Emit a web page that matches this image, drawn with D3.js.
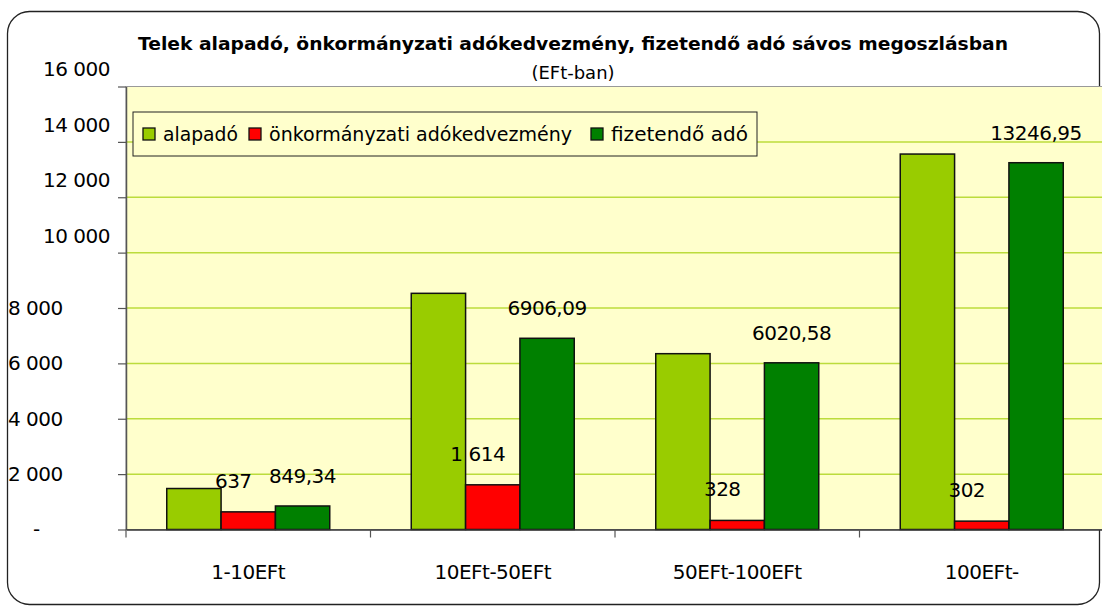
<!DOCTYPE html>
<html>
<head>
<meta charset="utf-8">
<script src="https://cdn.jsdelivr.net/npm/d3@7"></script>
<style>
  body { margin: 0; background: #fff; }
  text { font-family: "DejaVu Sans", sans-serif; fill: #000; }
</style>
</head>
<body>
<svg width="1102" height="608"></svg>
<script>
// data
const categories = ['1-10EFt', '10EFt-50EFt', '50EFt-100EFt', '100EFt-'];
const seriesNames = ['alapadó', 'önkormányzati adókedvezmény', 'fizetendő adó'];
const alapado = [1480, 8530, 6350, 13560];
const kedvezmeny = [637, 1614, 328, 302];
const fizetendo = [849.34, 6906.09, 6020.58, 13246.95];
const kedvezmenyLabels = ['637', '1 614', '328', '302'];
const fizetendoLabels = ['849,34', '6906,09', '6020,58', '13246,95'];
const yTicks = [0, 2000, 4000, 6000, 8000, 10000, 12000, 14000, 16000];
const colors = ['#99cc00', '#ff0000', '#008000'];

const svg = d3.select('svg');

// outer frame
svg.append('rect')
  .attr('x', 7.5).attr('y', 11.5)
  .attr('width', 1092).attr('height', 593)
  .attr('rx', 22).attr('ry', 22)
  .attr('fill', '#fff')
  .attr('stroke', '#222')
  .attr('stroke-width', 1.3);

const plot = {left: 126, right: 1104, top: 86.5, bottom: 529.5};

const x0 = d3.scaleBand()
  .domain(categories)
  .range([plot.left, plot.right]);

const barW = x0.bandwidth() / 4.5;
const x1 = d3.scaleBand()
  .domain(d3.range(3))
  .range([barW * 0.75, barW * 3.75]);

const y = d3.scaleLinear()
  .domain([0, 16000])
  .range([plot.bottom, plot.top]);

// plot background
svg.append('rect')
  .attr('x', plot.left).attr('y', plot.top)
  .attr('width', plot.right - plot.left)
  .attr('height', plot.bottom - plot.top)
  .attr('fill', '#ffffcc')
  .attr('stroke', '#999')
  .attr('stroke-width', 1);

// gridlines
svg.append('g')
  .selectAll('line')
  .data(yTicks.filter(d => d > 0 && d < 16000))
  .enter().append('line')
  .attr('x1', plot.left).attr('x2', plot.right)
  .attr('y1', d => y(d)).attr('y2', d => y(d))
  .attr('stroke', '#bcdc3c')
  .attr('stroke-width', 1.5);

// bars
const rows = categories.map((c, i) => ({
  cat: c,
  vals: [alapado[i], kedvezmeny[i], fizetendo[i]]
}));

const groups = svg.append('g')
  .selectAll('g')
  .data(rows)
  .enter().append('g')
  .attr('transform', d => `translate(${x0(d.cat)},0)`);

groups.selectAll('rect')
  .data(d => d.vals)
  .enter().append('rect')
  .attr('x', (d, i) => x1(i))
  .attr('width', x1.bandwidth())
  .attr('y', d => y(d))
  .attr('height', d => y(0) - y(d))
  .attr('fill', (d, i) => colors[i])
  .attr('stroke', '#111')
  .attr('stroke-width', 1.5);

// y axis
const yAxis = svg.append('g')
  .attr('transform', `translate(${plot.left},0)`)
  .call(d3.axisLeft(y).tickValues(yTicks).tickSize(8).tickSizeOuter(0)
    .tickFormat(d => d === 0 ? '-' : d3.format(',')(d).replace(',', ' ')));
yAxis.select('.domain').attr('stroke', '#555').attr('stroke-width', 1.5);
yAxis.selectAll('.tick line').attr('stroke', '#555').attr('stroke-width', 1.2);
yAxis.selectAll('.tick text')
  .style('font-family', '"DejaVu Sans", sans-serif')
  .style('font-size', '20px')
  .style('letter-spacing', '-0.5px')
  .attr('fill', '#000')
  .attr('text-anchor', d => d >= 10000 ? 'end' : 'start')
  .attr('x', d => d >= 10000 ? -16 : (d === 0 ? -93 : -118))
  .attr('y', d => d >= 10000 ? -17 : 0);

// x axis
const xAxis = svg.append('g')
  .attr('transform', `translate(0,${plot.bottom})`)
  .call(d3.axisBottom(x0).tickSize(0).tickSizeOuter(0));
xAxis.select('.domain').attr('stroke', '#333').attr('stroke-width', 1.5);
xAxis.selectAll('.tick text')
  .style('font-family', '"DejaVu Sans", sans-serif')
  .style('font-size', '20px')
  .style('letter-spacing', '-0.5px')
  .attr('fill', '#000')
  .attr('y', 35);

// category separators
svg.append('g')
  .selectAll('line')
  .data(categories)
  .enter().append('line')
  .attr('x1', d => x0(d)).attr('x2', d => x0(d))
  .attr('y1', plot.bottom).attr('y2', plot.bottom + 8)
  .attr('stroke', '#555')
  .attr('stroke-width', 1.2);

// data labels
const labelG = svg.append('g')
  .style('font-size', '20px')
  .style('letter-spacing', '-0.5px');

labelG.selectAll('.lab-red')
  .data(categories)
  .enter().append('text')
  .attr('class', 'lab-red')
  .attr('text-anchor', 'middle')
  .attr('x', (d, i) => x0(d) + x1(1) + x1.bandwidth() / 2 - 15)
  .attr('y', (d, i) => y(kedvezmeny[i]) - 31)
  .attr('dy', '0.35em')
  .text((d, i) => kedvezmenyLabels[i]);

labelG.selectAll('.lab-green')
  .data(categories)
  .enter().append('text')
  .attr('class', 'lab-green')
  .attr('text-anchor', 'middle')
  .attr('x', (d, i) => x0(d) + x1(2) + x1.bandwidth() / 2)
  .attr('y', (d, i) => y(fizetendo[i]) - 30)
  .attr('dy', '0.35em')
  .text((d, i) => fizetendoLabels[i]);

// title
svg.append('text')
  .attr('x', 573).attr('y', 44)
  .attr('dy', '0.35em')
  .attr('text-anchor', 'middle')
  .attr('textLength', 870)
  .attr('lengthAdjust', 'spacingAndGlyphs')
  .style('font-size', '18px')
  .style('font-weight', 'bold')
  .text('Telek alapadó, önkormányzati adókedvezmény, fizetendő adó sávos megoszlásban');

svg.append('text')
  .attr('x', 573).attr('y', 73)
  .attr('dy', '0.35em')
  .attr('text-anchor', 'middle')
  .style('font-size', '18px')
  .text('(EFt-ban)');

// legend
const legend = svg.append('g');
legend.append('rect')
  .attr('x', 133).attr('y', 112)
  .attr('width', 624).attr('height', 44)
  .attr('fill', '#ffffcc')
  .attr('stroke', '#222')
  .attr('stroke-width', 1);

const legendX = [143, 249, 591];
const legendLen = [75, 303, 137];
const items = legend.selectAll('g')
  .data(seriesNames)
  .enter().append('g')
  .attr('transform', (d, i) => `translate(${legendX[i]},134)`);

items.append('rect')
  .attr('x', 0).attr('y', -6)
  .attr('width', 12).attr('height', 12)
  .attr('fill', (d, i) => colors[i])
  .attr('stroke', '#111')
  .attr('stroke-width', 1.3);

items.append('text')
  .attr('x', 20).attr('y', 0)
  .attr('dy', '0.35em')
  .attr('textLength', (d, i) => legendLen[i])
  .attr('lengthAdjust', 'spacingAndGlyphs')
  .style('font-size', '19px')
  .text(d => d);
</script>
</body>
</html>
